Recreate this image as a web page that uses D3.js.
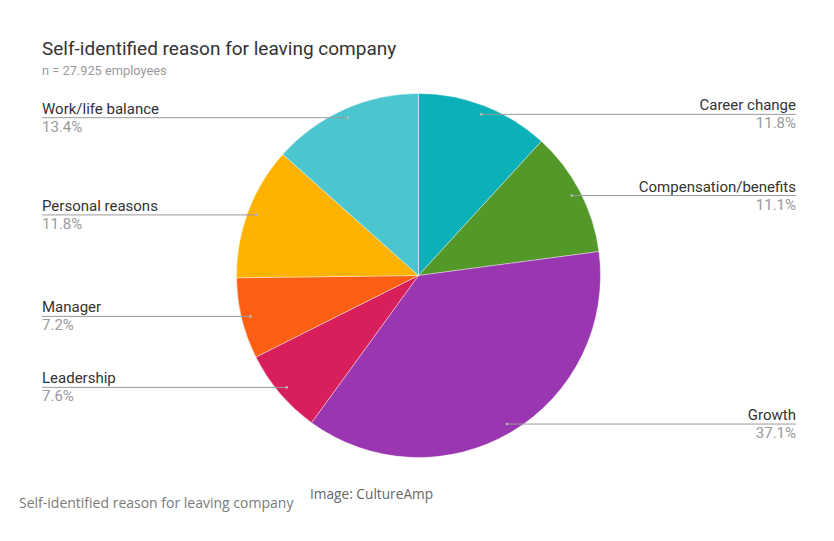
<!DOCTYPE html>
<html><head><meta charset="utf-8">
<script src="https://cdn.jsdelivr.net/npm/d3@7"></script>
<style>body{margin:0;background:#fff;} svg{display:block;}</style>
</head><body>
<svg id="c" width="834" height="541"></svg>
<script>
const categories = ["Career change","Compensation/benefits","Growth","Leadership","Manager","Personal reasons","Work/life balance"];
const values = [11.8, 11.1, 37.1, 7.6, 7.2, 11.8, 13.4];
const colors = ["#0BB0B8","#52992A","#9A36B0","#D81F5C","#FF5F14","#FFB300","#4CC6CE"];
const sides = ["right","right","right","left","left","left","left"];

const svg = d3.select("#c");
const cx = 418.5, cy = 275.5, R = 182;
const font = "Roboto, 'Noto Sans', sans-serif";

svg.append("text").attr("x",42).attr("y",55).attr("font-family",font).attr("font-size",19).attr("fill","#333").text("Self-identified reason for leaving company");
svg.append("text").attr("x",42).attr("y",75).attr("font-family",font).attr("font-size",12.8).attr("fill","#9a9a9a").text("n = 27.925 employees");

const data = categories.map((c,i)=>({name:c, value:values[i], color:colors[i], side:sides[i]}));
const pie = d3.pie().sort(null).value(d=>d.value);
const arcs = pie(data);
const arc = d3.arc().innerRadius(0).outerRadius(R);
const g = svg.append("g").attr("transform",`translate(${cx},${cy})`);
g.selectAll("path").data(arcs).join("path").attr("d",arc).attr("fill",d=>d.data.color).attr("stroke","#fff").attr("stroke-width",0.4);

const dotR = R*0.95;
arcs.forEach(a=>{
  const m = (a.startAngle+a.endAngle)/2;
  const x = cx + dotR*Math.sin(m), y = cy - dotR*Math.cos(m);
  const right = a.data.side==="right";
  const x2 = right ? 796 : 42;
  svg.append("line").attr("x1",x).attr("y1",y).attr("x2",x2).attr("y2",y).attr("stroke","#9a9a9a").attr("stroke-width",1);
  svg.append("circle").attr("cx",x).attr("cy",y).attr("r",1.3).attr("fill","#bbb");
  svg.append("text").attr("x",x2).attr("y",y-4).attr("text-anchor",right?"end":"start").attr("font-family",font).attr("font-size",15).attr("fill","#333").text(a.data.name);
  svg.append("text").attr("x",x2).attr("y",y+14).attr("text-anchor",right?"end":"start").attr("font-family",font).attr("font-size",15).attr("fill","#9a9a9a").text(a.data.value.toFixed(1)+"%");
});

svg.append("text").attr("x",19).attr("y",508).attr("font-family","'Open Sans', sans-serif").attr("font-size",14).attr("fill","#7a7a7a").text("Self-identified reason for leaving company");
svg.append("text").attr("x",310).attr("y",499).attr("font-family","'Open Sans', sans-serif").attr("font-size",13.7).attr("fill","#666").text("Image: CultureAmp");
</script>
</body></html>
